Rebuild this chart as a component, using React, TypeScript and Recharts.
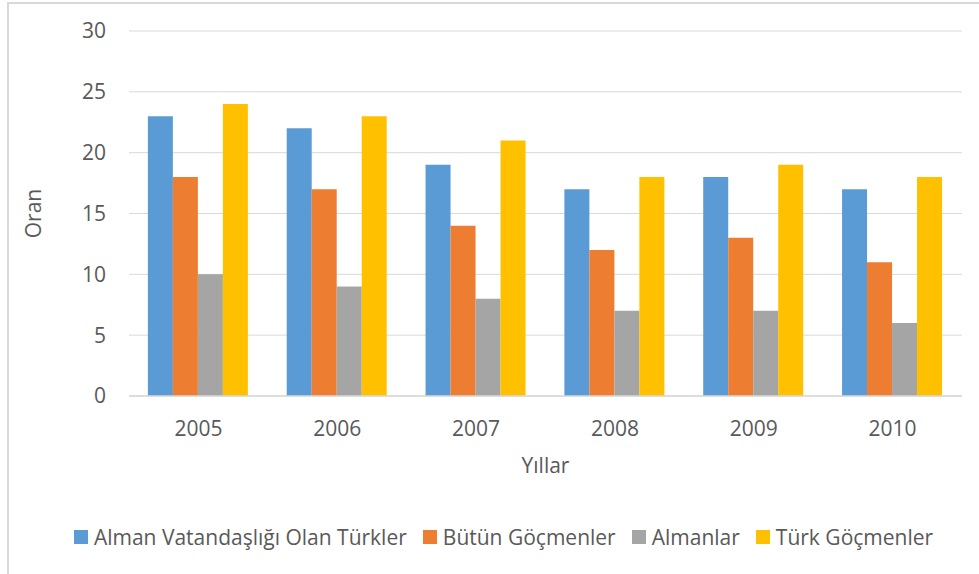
import React from 'react';
import { BarChart, Bar, XAxis, YAxis, CartesianGrid, Legend, Label } from 'recharts';

const years = ['2005', '2006', '2007', '2008', '2009', '2010'];
const almanVatandasligiOlanTurkler = [23, 22, 19, 17, 18, 17];
const butunGocmenler = [18, 17, 14, 12, 13, 11];
const almanlar = [10, 9, 8, 7, 7, 6];
const turkGocmenler = [24, 23, 21, 18, 19, 18];
const yTicks = [0, 5, 10, 15, 20, 25, 30];

const seriesNames = ['Alman Vatandaşlığı Olan Türkler', 'Bütün Göçmenler', 'Almanlar', 'Türk Göçmenler'];
const seriesColors = ['#5B9BD5', '#ED7D31', '#A5A5A5', '#FFC000'];

const data = years.map((y, i) => ({
  year: y,
  s0: almanVatandasligiOlanTurkler[i],
  s1: butunGocmenler[i],
  s2: almanlar[i],
  s3: turkGocmenler[i],
}));

const FONT = '"Open Sans", "Noto Sans", sans-serif';
const TEXT = '#595959';
const FS = 21;

const LegendContent = () => (
  <div style={{ display: 'flex', justifyContent: 'center', alignItems: 'center', paddingLeft: 45, fontFamily: FONT, fontSize: FS, color: TEXT, height: 30 }}>
    {seriesNames.map((n, i) => (
      <div key={n} style={{ display: 'flex', alignItems: 'center', marginRight: i < 3 ? 16 : 0 }}>
        <span style={{ display: 'inline-block', width: 14, height: 14, background: seriesColors[i], marginRight: 6 }} />
        <span>{n}</span>
      </div>
    ))}
  </div>
);

export default function App() {
  return (
    <div style={{ position: 'absolute', left: 0, top: 0, width: 979, height: 574, background: '#fff' }}>
      <BarChart
        width={979}
        height={574}
        data={data}
        margin={{ top: 31, right: 17, left: 0, bottom: 22 }}
        barCategoryGap="13.6%"
        barGap={0}
      >
        <CartesianGrid vertical={false} stroke="#D9D9D9" strokeWidth={1} />
        <XAxis
          dataKey="year"
          height={126}
          tickLine={false}
          tickSize={0}
          tickMargin={25}
          axisLine={{ stroke: '#D9D9D9', strokeWidth: 1.5 }}
          tick={{ fill: TEXT, fontSize: FS, fontFamily: FONT }}
        >
          <Label
            content={(props: any) => {
              const vb = props.viewBox || {};
              return (
                <text x={vb.x + vb.width / 2} y={vb.y + 69} textAnchor="middle" dominantBaseline="central" fill={TEXT} fontSize={FS} fontFamily={FONT}>
                  Yıllar
                </text>
              );
            }}
          />
        </XAxis>
        <YAxis
          width={129}
          domain={[0, 30]}
          ticks={yTicks}
          axisLine={false}
          tickLine={false}
          tickSize={0}
          tickMargin={23}
          tick={{ fill: TEXT, fontSize: FS, fontFamily: FONT }}
        >
          <Label
            content={(props: any) => {
              const vb = props.viewBox || {};
              const cx = vb.x + 33;
              const cy = vb.y + vb.height / 2;
              return (
                <text x={cx} y={cy} transform={`rotate(-90, ${cx}, ${cy})`} textAnchor="middle" dominantBaseline="central" fill={TEXT} fontSize={FS} fontFamily={FONT}>
                  Oran
                </text>
              );
            }}
          />
        </YAxis>
        <Legend verticalAlign="bottom" height={30} content={<LegendContent />} />
        <Bar dataKey="s0" name={seriesNames[0]} fill={seriesColors[0]} isAnimationActive={false} />
        <Bar dataKey="s1" name={seriesNames[1]} fill={seriesColors[1]} isAnimationActive={false} />
        <Bar dataKey="s2" name={seriesNames[2]} fill={seriesColors[2]} isAnimationActive={false} />
        <Bar dataKey="s3" name={seriesNames[3]} fill={seriesColors[3]} isAnimationActive={false} />
      </BarChart>
      <div style={{ position: 'absolute', left: 7, top: 2, width: 1000, height: 600, borderLeft: '2px solid #D9D9D9', borderTop: '2px solid #D9D9D9', pointerEvents: 'none', zIndex: 5 }} />
    </div>
  );
}
